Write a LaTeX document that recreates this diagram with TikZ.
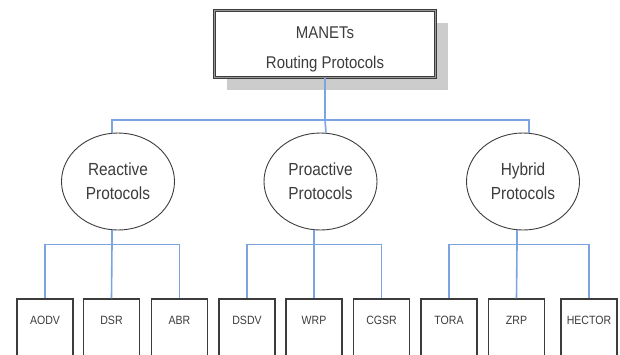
\documentclass[tikz,border=0pt]{standalone}
\usepackage{fontspec}
\setmainfont{Liberation Sans}
\newfontfamily\narrowsans[FakeStretch=0.88]{Liberation Sans}
\usetikzlibrary{shapes.geometric,shadows}
\definecolor{linkblue}{RGB}{125,164,226}
\definecolor{inkgray}{RGB}{60,60,60}
\begin{document}
\begin{tikzpicture}[x=1pt,y=-1pt,
		root/.style={draw=inkgray,double=black!40,double distance=1.8pt,line width=0.8pt,fill=white,
			minimum width=221pt,minimum height=67pt,inner sep=0pt,align=center,text=inkgray,
			font=\narrowsans\fontsize{17}{30}\selectfont,
			drop shadow={shadow xshift=12pt,shadow yshift=-12pt,fill=black!20,opacity=1}},
		family/.style={draw=inkgray,ellipse,line width=0.9pt,minimum width=113pt,minimum height=97pt,
			inner sep=0pt,align=center,text=inkgray,font=\narrowsans\fontsize{17.5}{24}\selectfont},
		leaf/.style={draw=inkgray,line width=1.1pt,minimum width=56pt,inner xsep=0pt,inner ysep=0pt,
			text height=25pt,text depth=60pt,anchor=base,text=inkgray,font=\narrowsans\fontsize{12}{14}\selectfont},
		link/.style={draw=linkblue,line width=1.6pt}]
		\useasboundingbox (0,0) rectangle (620,354);
		\clip (0,0) rectangle (620,354);
		\node[root](top) at (325,44) {\rule{0pt}{23pt}MANETs\\Routing Protocols};
		\node[family](re) at (118,181.5) {Reactive\\Protocols};
		\node[family](pr) at (320.5,181.5) {Proactive\\Protocols};
		\node[family](hy) at (523,181.5) {Hybrid\\Protocols};
		\node[leaf](aodv) at (45,324) {AODV};
		\node[leaf](dsr) at (111.5,324) {DSR};
		\node[leaf](abr) at (179.5,324) {ABR};
		\node[leaf](dsdv) at (247,324) {DSDV};
		\node[leaf](wrp) at (314,324) {WRP};
		\node[leaf](cgsr) at (381.5,324) {CGSR};
		\node[leaf](tora) at (449,324) {TORA};
		\node[leaf](zrp) at (516.5,324) {ZRP};
		\node[leaf](hector) at (589,324) {HECTOR};
		% bus under the root box
		\coordinate (bus) at ([yshift=-42pt]top.south);
		\draw[link] (top.south) -- (bus);
		\draw[link] ([xshift=-6pt]re.north) |- (bus) -| ([xshift=6pt]hy.north);
		\draw[link] (bus) -- ([xshift=5.5pt]pr.north);
		% buses under the ellipses
		\draw[link] ([xshift=-6pt]re.south) -- ++(0,14) coordinate (reb);
		\draw[link] (aodv.north) |- (reb) -| (abr.north);
		\draw[link] (reb) -- (dsr.north);
		\draw[link] ([xshift=-6.5pt]pr.south) -- ++(0,14) coordinate (prb);
		\draw[link] (dsdv.north) |- (prb) -| (cgsr.north);
		\draw[link] (prb) -- (wrp.north);
		\draw[link] ([xshift=-6pt]hy.south) -- ++(0,14) coordinate (hyb);
		\draw[link] (tora.north) |- (hyb) -| (hector.north);
		\draw[link] (hyb) -- (zrp.north);
	\end{tikzpicture}
\end{document}
